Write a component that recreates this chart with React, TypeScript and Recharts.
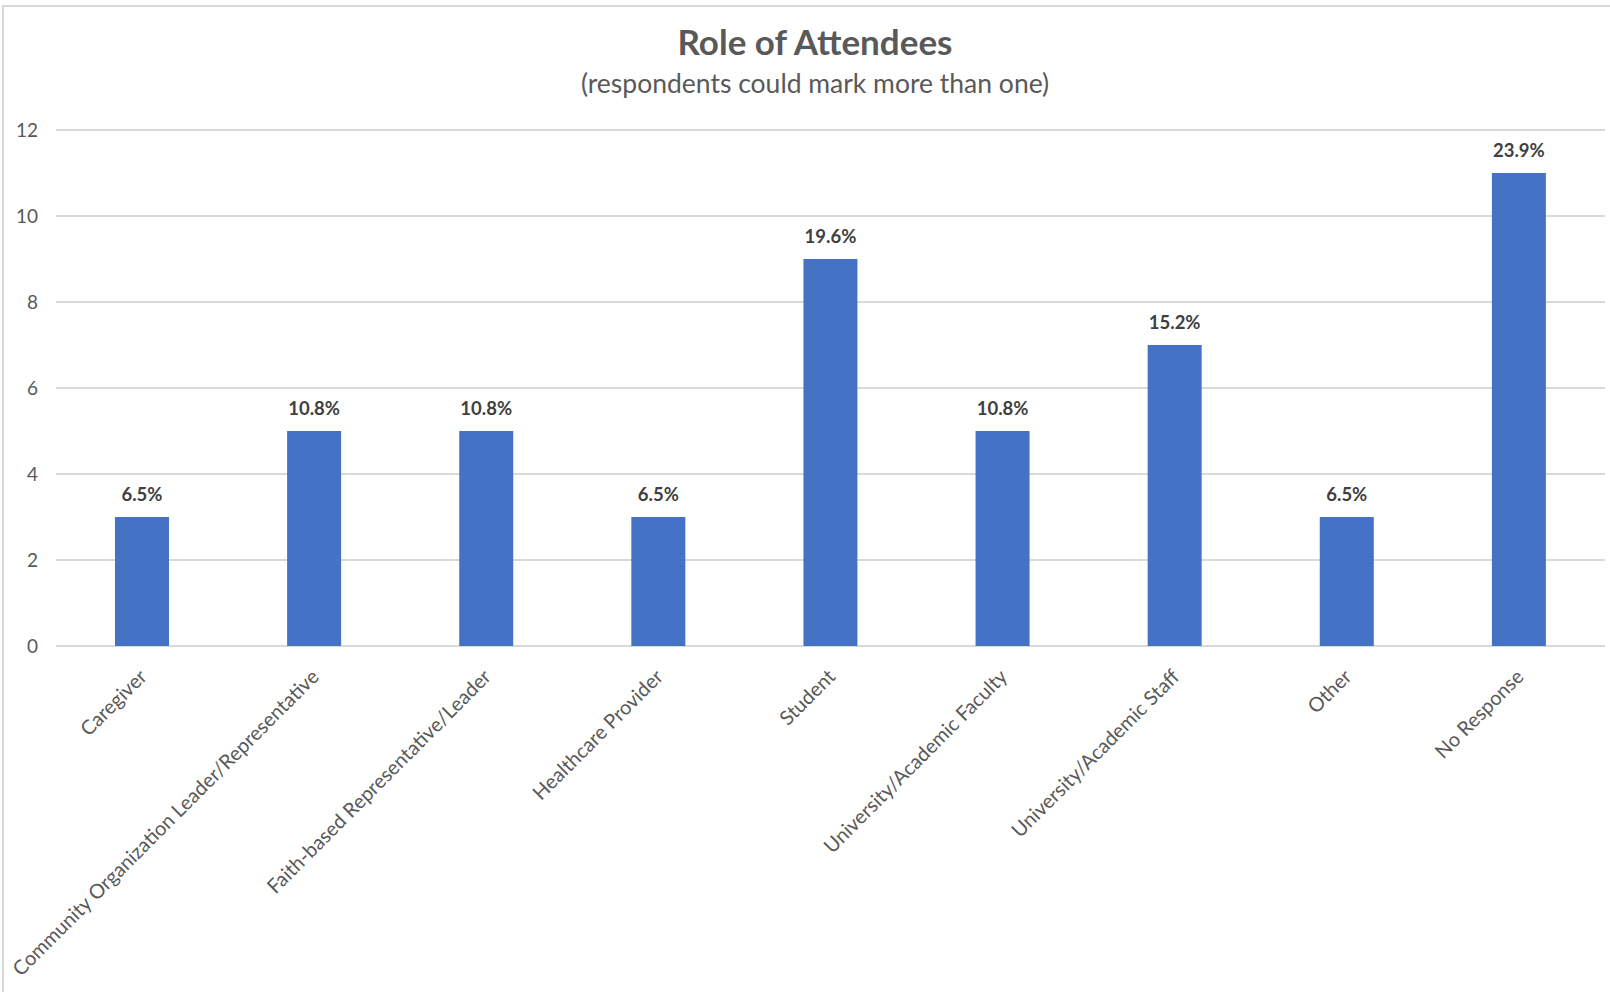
import { Bar, BarChart, CartesianGrid, LabelList, XAxis, YAxis } from 'recharts';

const roles = [
  'Caregiver',
  'Community Organization Leader/Representative',
  'Faith-based Representative/Leader',
  'Healthcare Provider',
  'Student',
  'University/Academic Faculty',
  'University/Academic Staff',
  'Other',
  'No Response',
];
const counts = [3, 5, 5, 3, 9, 5, 7, 3, 11];
const percents = ['6.5%', '10.8%', '10.8%', '6.5%', '19.6%', '10.8%', '15.2%', '6.5%', '23.9%'];
const yTicks = [0, 2, 4, 6, 8, 10, 12];

const data = roles.map((role, i) => ({ role, count: counts[i], pct: percents[i] }));

const FONT = 'Lato, "Open Sans", sans-serif';

function RoleTick({ x, y, payload }: any) {
  return (
    <g transform={`translate(${x + 6},${y})`}>
      <text
        transform="rotate(-45)"
        textAnchor="end"
        fill="#595959"
        fontSize={20}
        fontFamily={FONT}
      >
        {payload.value}
      </text>
    </g>
  );
}

export default function App() {
  return (
    <div style={{ position: 'absolute', left: 0, top: 0, width: 1610, height: 992, background: '#fff', overflow: 'hidden' }}>
      {/* frame, only left and top edges are visible in the original */}
      <div style={{ position: 'absolute', left: 2, top: 5, right: -4, bottom: -4, border: '2px solid #d9d9d9' }} />
      <div style={{ position: 'absolute', left: 0, width: 1630, top: 20, textAlign: 'center', fontFamily: FONT, color: '#595959' }}>
        <div style={{ fontSize: 35, fontWeight: 700, lineHeight: '42px' }}>Role of Attendees</div>
        <div style={{ fontSize: 26.5, lineHeight: '32px', marginTop: 5 }}>(respondents could mark more than one)</div>
      </div>
      <div style={{ position: 'absolute', left: 0, top: 0 }}>
        <BarChart
          width={1610}
          height={992}
          data={data}
          margin={{ top: 130, right: 5, bottom: 46, left: 16 }}
        >
          <CartesianGrid vertical={false} stroke="#d9d9d9" strokeWidth={2} />
          <XAxis
            dataKey="role"
            interval={0}
            axisLine={false}
            tickLine={false}
            height={300}
            tick={<RoleTick />}
            tickSize={0}
            tickMargin={32}
          />
          <YAxis
            width={40}
            domain={[0, 12]}
            ticks={yTicks}
            axisLine={false}
            tickLine={false}
            tickSize={0}
            tickMargin={18}
            tick={{ fill: '#595959', fontSize: 19, fontFamily: FONT }}
          />
          <Bar dataKey="count" fill="#4472C4" barSize={54} isAnimationActive={false}>
            <LabelList
              dataKey="pct"
              position="top"
              offset={16}
              fill="#404040"
              fontSize={18.5}
              fontWeight={700}
              fontFamily={FONT}
            />
          </Bar>
        </BarChart>
      </div>
    </div>
  );
}
